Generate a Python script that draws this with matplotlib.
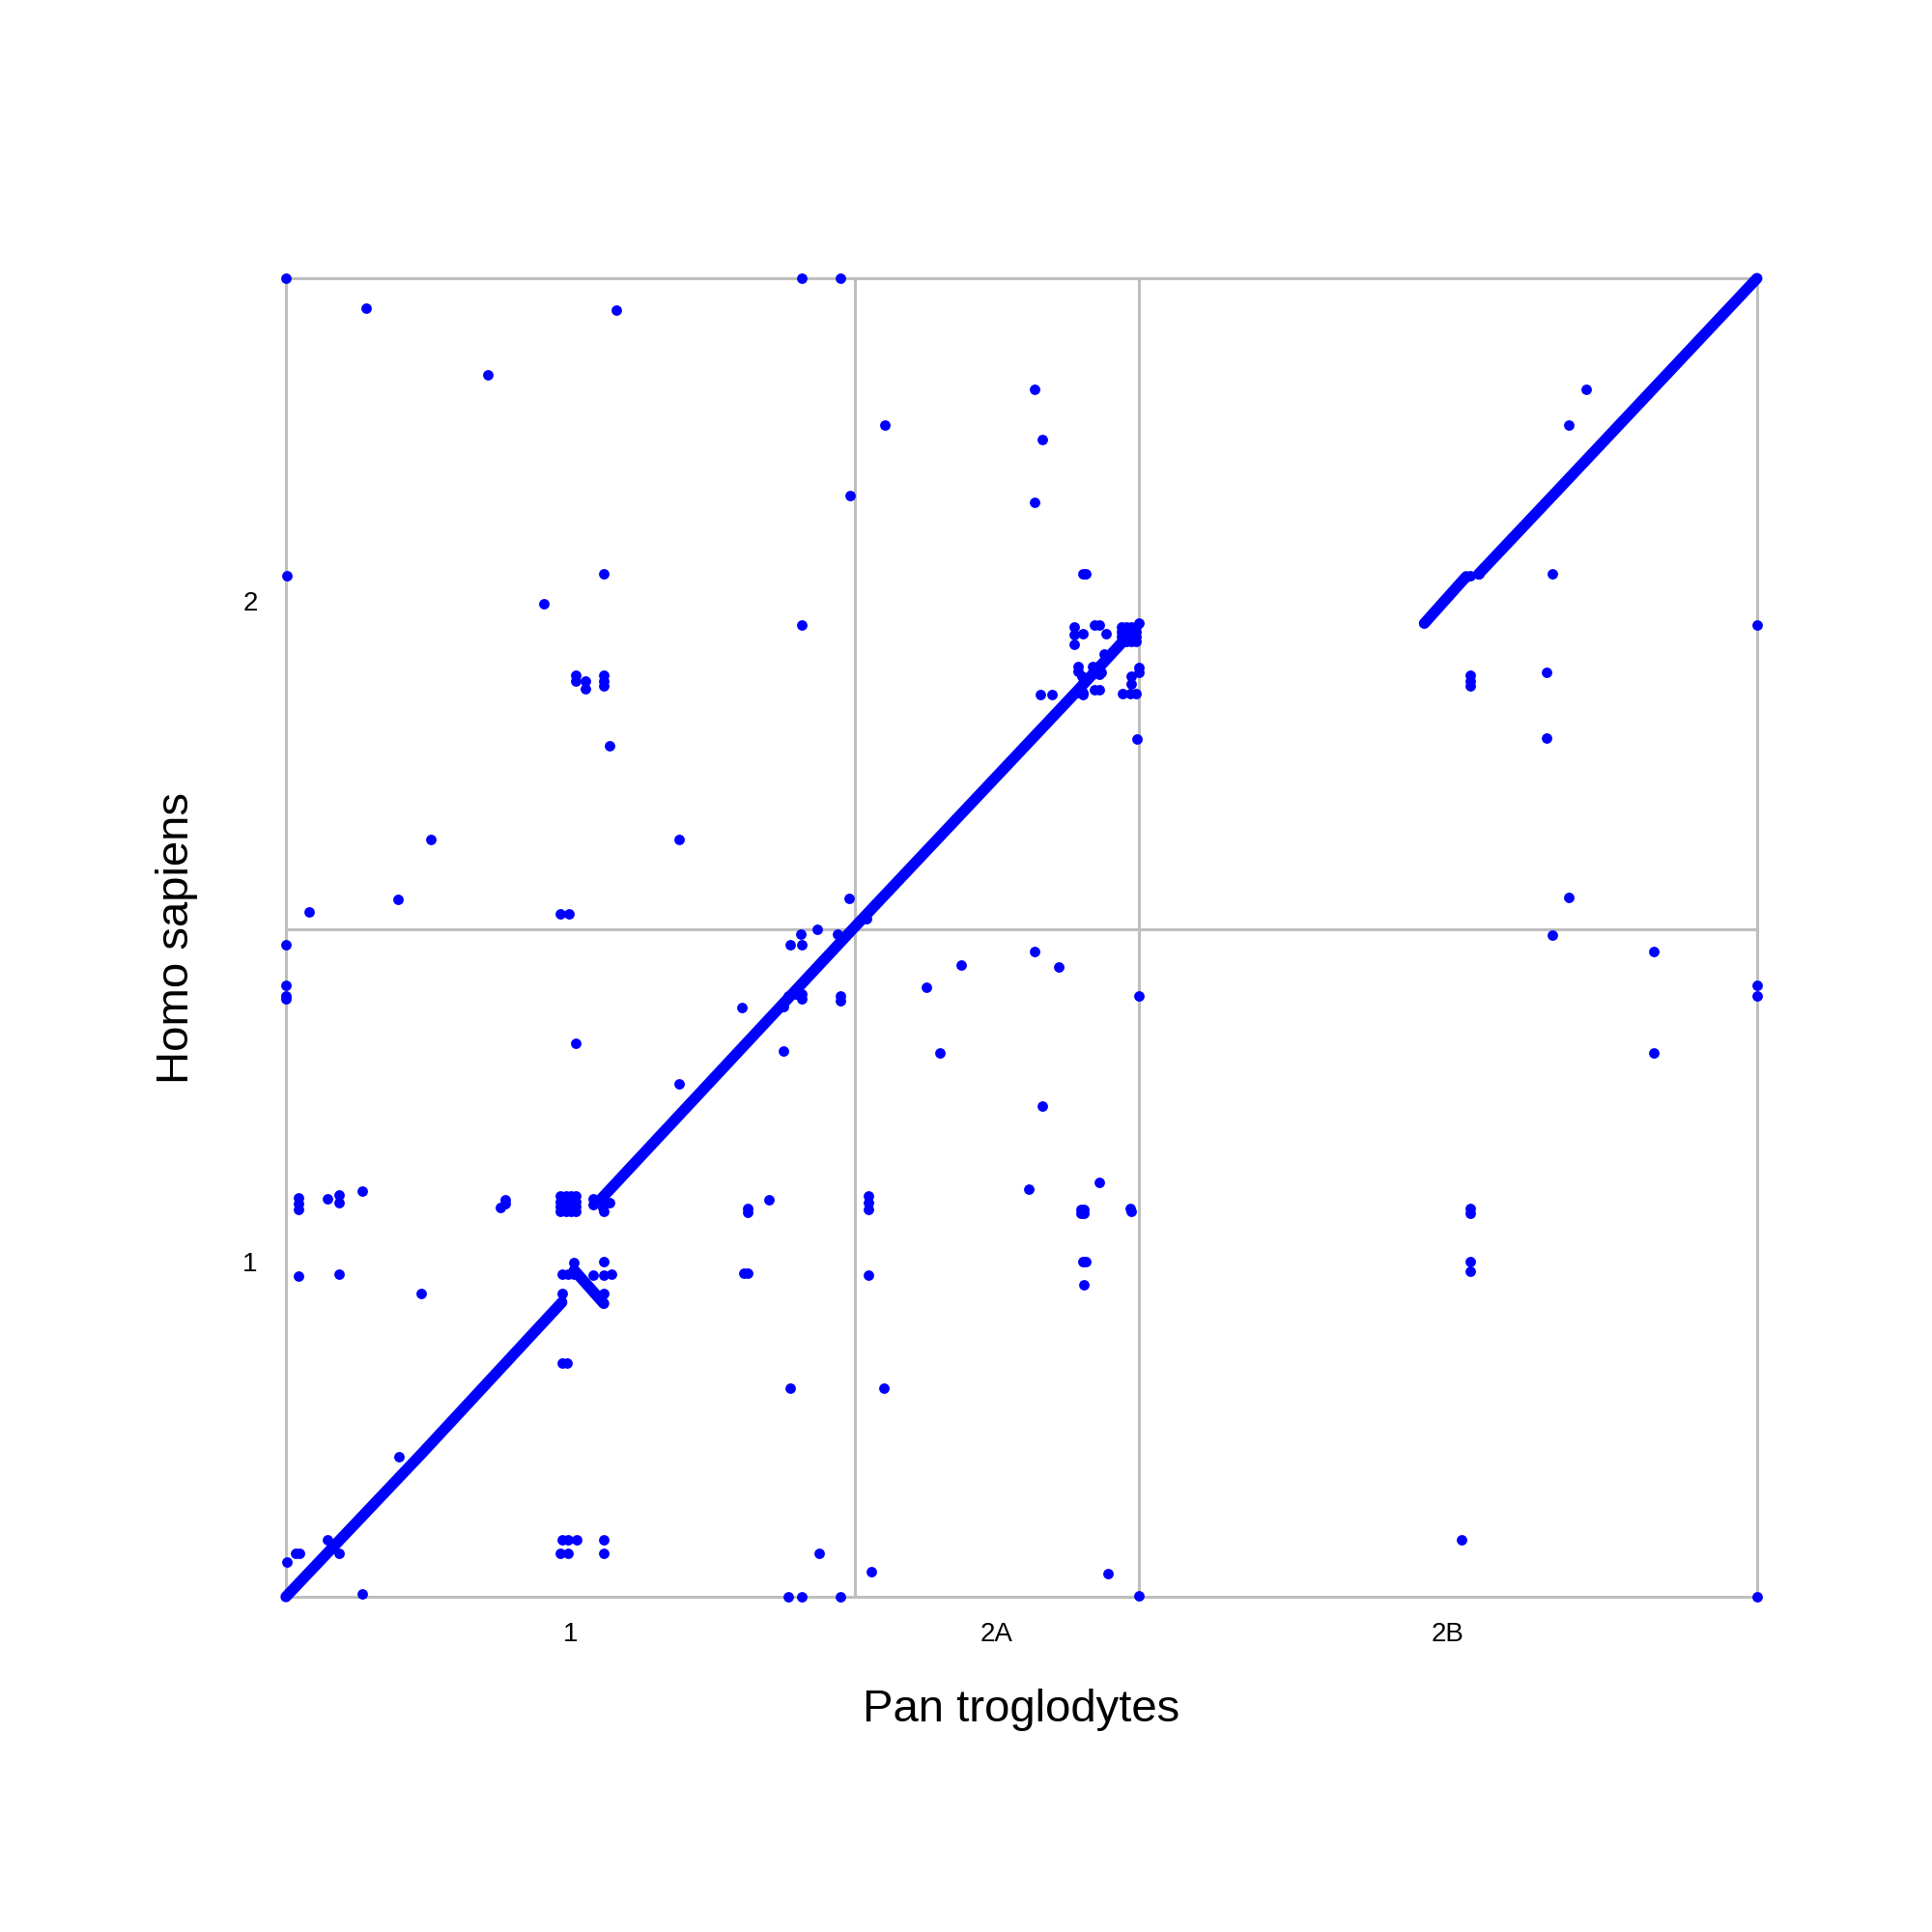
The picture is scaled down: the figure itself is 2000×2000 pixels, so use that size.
import matplotlib
matplotlib.use('Agg')
import matplotlib.pyplot as pl

pl.rcParams['font.family'] = ['Liberation Sans', 'DejaVu Sans']

# genome positions, arbitrary units
x_bounds = [0, 462, 692, 1194]
y_bounds = [0, 542, 1070]
x_ticks = [231, 577, 943]
y_ticks = [272, 808]
x_labels = ['1', '2A', '2B']
y_labels = ['1', '2']

# syntenic runs along the diagonal
run_x = [[0, 110, 224], [234, 258], [255, 462, 643, 680], [924, 958], [968, 1036, 1194]]
run_y = [[0, 116, 239], [265, 238], [322, 544, 736, 776], [790, 828], [830, 902, 1070]]

# scattered hits, upper half
upper_x = [0, 419, 450, 65, 268, 164, 608, 614, 608, 486, 458, 1055, 1041, 1, 258, 209, 647, 649, 419, 1028, 1194,
           235, 235, 243, 243, 258, 258, 258, 263, 118, 319, 91, 19, 223, 230, 457,
           961, 961, 961, 1023, 1023, 1041]
upper_y = [1070, 1070, 1070, 1046, 1044, 992, 980, 939, 888, 951, 894, 980, 951, 829, 830, 806, 830, 830, 789, 830, 789,
           748, 743, 743, 737, 748, 743, 739, 691, 615, 615, 566, 556, 554, 554, 567,
           748, 743, 739, 750, 697, 568]

# cluster around the end of the 2A run
cluster_x = [640, 640, 640, 647, 656, 660, 666, 692,
             678, 682, 686, 690, 678, 682, 686, 690, 678, 682, 686, 690, 678, 682, 686, 690,
             664, 643, 643, 646, 655, 659, 662, 654, 660, 647, 647, 642, 647, 656, 660,
             679, 685, 690, 686, 686, 692, 692, 612, 622, 691]
cluster_y = [787, 781, 773, 782, 789, 789, 782, 790,
             787, 787, 787, 787, 783, 783, 783, 783, 779, 779, 779, 779, 775, 775, 775, 775,
             765, 755, 751, 747, 755, 755, 750, 749, 749, 742, 734, 734, 732, 736, 736,
             733, 733, 733, 747, 741, 754, 750, 732, 732, 696]

# scattered hits, lower half
lower_x = [1028, 1110, 1194, 1194, 1110, 0, 0, 0, 0, 409, 418, 419, 431, 448, 520, 548, 608, 627, 692,
           370, 419, 419, 450, 450, 404, 531, 235, 319, 614, 603, 660,
           10, 10, 10, 34, 43, 43, 62, 178, 178, 174,
           223, 227, 231, 235, 223, 227, 231, 235, 223, 227, 231, 235, 223, 227, 231, 235,
           249, 249, 258, 263, 258, 257, 375, 375, 392, 473, 473, 473,
           645, 648, 645, 648, 685, 686, 961, 961, 961, 961,
           10, 43, 110, 224, 229, 234, 234, 258, 249, 258, 264, 258, 224,
           375, 372, 473, 647, 649, 648, 224, 228, 409, 485, 92, 61,
           34, 11, 8, 1, 43, 224, 229, 236, 258, 223, 229, 258, 433, 475, 667, 954,
           62, 408, 419, 450, 692, 1194,
           471, 468, 958, 961, 968, 404, 408, 414]
lower_y = [537, 524, 496, 488, 441, 529, 496, 488, 485, 529, 538, 529, 542, 538, 495, 513, 524, 511, 488,
           478, 489, 485, 488, 484, 443, 441, 449, 416, 398, 331, 336,
           324, 319, 314, 323, 326, 320, 329, 322, 319, 316,
           325, 325, 325, 325, 321, 321, 321, 321, 317, 317, 317, 317, 313, 313, 313, 313,
           323, 318, 321, 320, 313, 316, 315, 312, 322, 325, 320, 314,
           314, 314, 311, 311, 315, 313, 315, 311, 272, 264,
           260, 262, 246, 262, 262, 262, 271, 272, 261, 261, 262, 246, 246,
           263, 263, 261, 272, 272, 253, 190, 190, 169, 169, 114, 65,
           46, 35, 35, 28, 35, 46, 46, 46, 46, 35, 35, 35, 35, 20, 19, 46,
           2, 0, 0, 0, 1, 0,
           550, 550, 828, 829, 830, 479, 488, 489]

fig = pl.figure(figsize=(20, 20), dpi=100)
ax = fig.add_axes([0.148, 0.1735, 0.7614, 0.6824])

for rx, ry in zip(run_x, run_y):
    ax.plot(rx, ry, color='#0000ff', lw=8.2, solid_capstyle='round', clip_on=False, zorder=3)
for dx, dy in [(upper_x, upper_y), (cluster_x, cluster_y), (lower_x, lower_y)]:
    ax.plot(dx, dy, ls='none', marker='o', ms=7.8, mew=0, color='#0000ff', clip_on=False, zorder=3)

ax.set_xlim(x_bounds[0], x_bounds[-1])
ax.set_ylim(y_bounds[0], y_bounds[-1])

# chromosome borders are the grid, labels sit in the middle of each chromosome
ax.set_xticks(x_bounds, minor=True)
ax.set_yticks(y_bounds, minor=True)
ax.set_xticks(x_ticks, x_labels)
ax.set_yticks(y_ticks, y_labels)
ax.grid(which='minor', color='#bebebe', lw=2.2)
ax.grid(which='major', visible=False)
ax.tick_params(which='both', length=0)
ax.tick_params(which='major', labelsize=20, labelcolor='black')
ax.tick_params(axis='x', which='major', pad=19)
ax.tick_params(axis='y', which='major', pad=21)
for s in ax.spines.values():
    s.set_color('#bebebe')
    s.set_linewidth(2.2)
ax.set_axisbelow(True)

ax.set_xlabel('Pan troglodytes', fontsize=34, labelpad=31)
ax.set_ylabel('Homo sapiens', fontsize=34, labelpad=33.5)

fig.savefig('out.png', dpi=100, facecolor='white')
